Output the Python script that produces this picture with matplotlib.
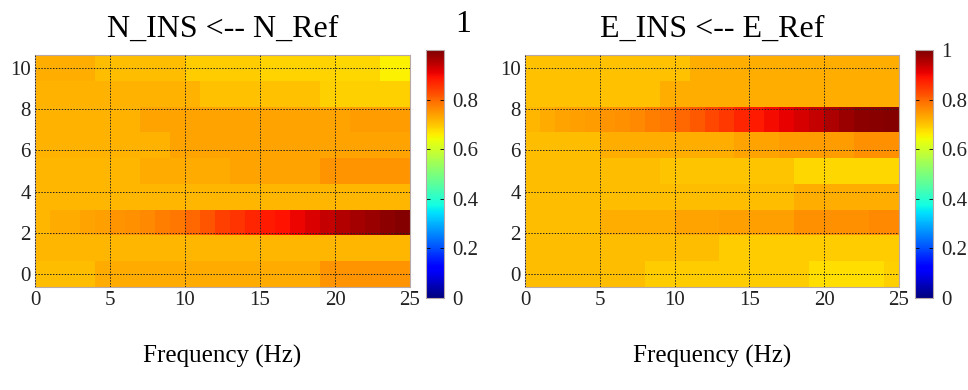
import numpy as np
import matplotlib
matplotlib.use("Agg")
import matplotlib.pyplot as plt

plt.rcParams['font.family'] = ['Liberation Serif', 'DejaVu Serif']

# frequency bins (1 Hz wide, 0..25 Hz) and the 9 rows on the y axis
freq_edges = np.arange(0, 26, 1)
row_centers = np.linspace(0, 10, 9)

# N_INS <-- N_Ref, rows bottom (0) to top (10)
n_rows = [
    [0.71]*4 + [0.73]*15 + [0.75]*6,
    [0.715]*25,
    [0.715, 0.73, 0.73, 0.735, 0.74, 0.75, 0.755, 0.765, 0.775, 0.785, 0.80, 0.82, 0.84,
     0.855, 0.87, 0.88, 0.89, 0.905, 0.92, 0.94, 0.955, 0.965, 0.975, 0.985, 0.995],
    [0.715]*25,
    [0.715]*7 + [0.73]*6 + [0.735]*6 + [0.75]*6,
    [0.72]*9 + [0.735]*16,
    [0.72]*7 + [0.735]*14 + [0.745]*4,
    [0.72]*11 + [0.705]*8 + [0.69]*6,
    [0.725]*4 + [0.71]*6 + [0.695]*5 + [0.685]*5 + [0.68]*3 + [0.655]*2,
]

# E_INS <-- E_Ref
e_rows = [
    [0.71]*8 + [0.695]*11 + [0.675]*5 + [0.69],
    [0.71]*13 + [0.695]*12,
    [0.71]*5 + [0.725]*5 + [0.735]*3 + [0.74]*5 + [0.755]*5 + [0.765]*2,
    [0.71]*18 + [0.725]*7,
    [0.71]*9 + [0.70]*9 + [0.68]*7,
    [0.71]*5 + [0.725]*9 + [0.735]*3 + [0.745]*5 + [0.755]*3,
    [0.715, 0.73, 0.735, 0.74, 0.745, 0.75, 0.755, 0.765, 0.775, 0.785, 0.80, 0.815, 0.835,
     0.85, 0.87, 0.88, 0.895, 0.91, 0.925, 0.94, 0.96, 0.975, 0.985, 0.99, 0.995],
    [0.705]*9 + [0.725]*16,
    [0.705]*11 + [0.725]*14,
]

titles = ["N_INS <-- N_Ref", "E_INS <-- E_Ref"]
xlabel = "Frequency (Hz)"

fig = plt.figure(figsize=(9.68, 3.9), dpi=100)
W, H = 968, 390


def box(x0, x1, y0, y1):
    return [x0 / W, 1 - y1 / H, (x1 - x0) / W, (y1 - y0) / H]


dy = row_centers[1] - row_centers[0]
y_edges = np.append(row_centers - dy / 2, row_centers[-1] + dy / 2)

panels = [
    (n_rows, titles[0], box(35, 410, 55, 287), box(426, 444, 50, 298), [0, 0.2, 0.4, 0.6, 0.8]),
    (e_rows, titles[1], box(525, 899, 55, 287), box(915, 933, 50, 298), [0, 0.2, 0.4, 0.6, 0.8, 1]),
]

for rows, title, apos, cpos, cticks in panels:
    ax = fig.add_axes(apos)
    mesh = ax.pcolormesh(freq_edges, y_edges, np.array(rows), cmap="jet",
                         vmin=0, vmax=1, shading="flat")
    ax.set_xlim(0, 25)
    ax.set_ylim(y_edges[0], y_edges[-1])
    ax.set_xticks([0, 5, 10, 15, 20, 25])
    ax.set_yticks([0, 2, 4, 6, 8, 10])
    ax.grid(True, color="#222222", linestyle=(0, (1.5, 1.5)), linewidth=0.7)
    ax.set_axisbelow(False)
    ax.tick_params(direction="in", length=0, labelsize=15, pad=3,
                   labelcolor="#222222")
    for s in ax.spines.values():
        s.set_color("#b8a8a8")
        s.set_linewidth(0.8)
    ax.set_title(title, fontsize=23, pad=13)
    ax.set_xlabel(xlabel, fontsize=18, labelpad=25)

    cax = fig.add_axes(cpos)
    cb = fig.colorbar(mesh, cax=cax)
    cb.set_ticks(cticks)
    cb.set_ticklabels([f"{t:g}" for t in cticks])
    cax.tick_params(direction="in", length=3, width=0.6, labelsize=15,
                    labelcolor="#222222", left=True, right=True, pad=6)
    cb.outline.set_edgecolor("#b8a8a8")
    cb.outline.set_linewidth(0.8)

# stray top colorbar label drawn on the title line in the original
fig.text(463 / W, 1 - 25 / H, "1", fontsize=23, ha="center", va="center")

fig.savefig("out.png", dpi=100)
